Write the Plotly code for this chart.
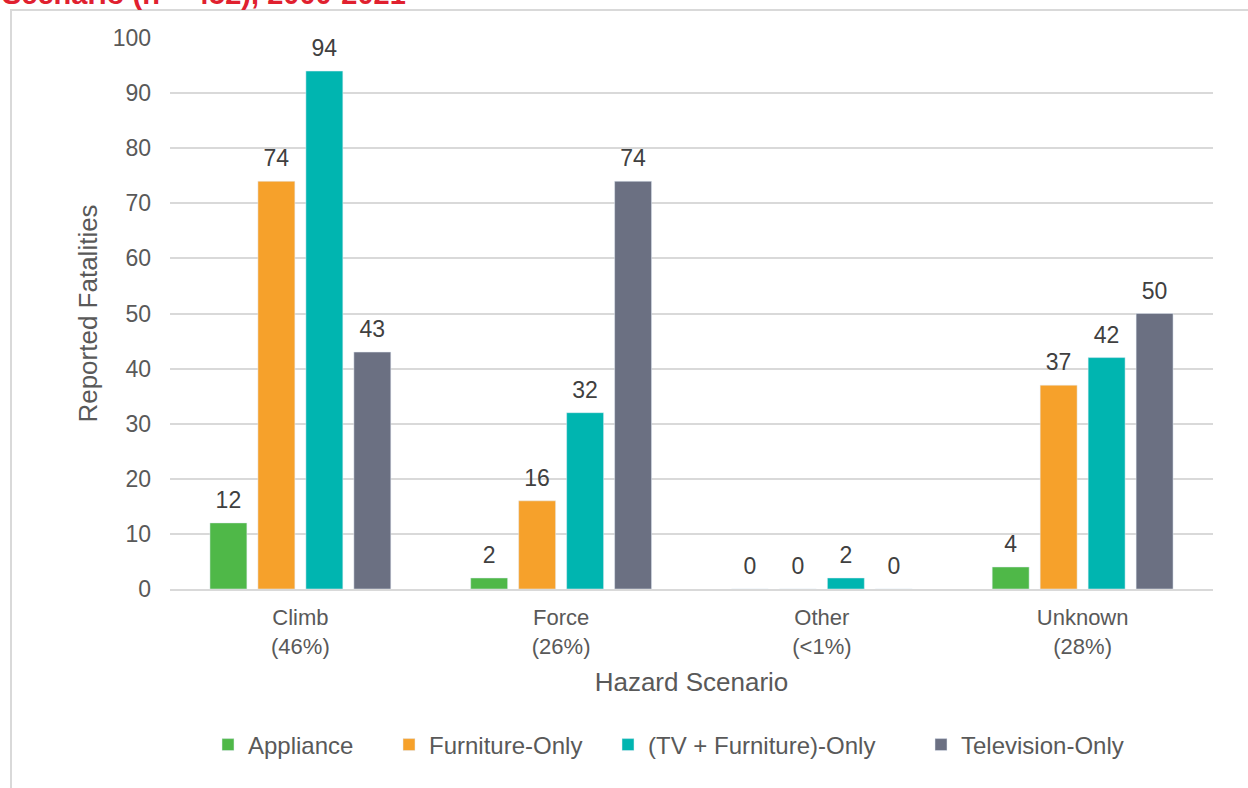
import plotly.graph_objects as go

categories = ["Climb<br>(46%)", "Force<br>(26%)", "Other<br>(<1%)", "Unknown<br>(28%)"]
series_names = ["Appliance", "Furniture-Only", "(TV + Furniture)-Only", "Television-Only"]
appliance = [12, 2, 0, 4]
furniture_only = [74, 16, 0, 37]
tv_furniture_only = [94, 32, 2, 42]
television_only = [43, 74, 0, 50]
colors = ["#4FB848", "#F6A12B", "#00B5B0", "#6B7082"]
y_ticks = [0, 10, 20, 30, 40, 50, 60, 70, 80, 90, 100]
title_text = "Scenario (n = 452), 2000-2021"

FONT = "Liberation Sans, Arial, sans-serif"
GAP = 0.264

W, H = 1248, 788
L, R, T, B = 170, 1213, 38, 589

def px(x):
    return (x - L) / (R - L)

def py(y):
    return (B - y) / (B - T)

legend_ids = ["legend", "legend2", "legend3", "legend4"]
legend_left = [208, 389, 608, 921]

fig = go.Figure()
all_series = [appliance, furniture_only, tv_furniture_only, television_only]
for i, (name, vals, col) in enumerate(zip(series_names, all_series, colors)):
    fig.add_trace(go.Bar(
        x=categories, y=vals, name=name, marker_color=col,
        offsetgroup=str(i), alignmentgroup="a", legend=legend_ids[i],
        cliponaxis=False,
    ))
for i, (name, vals) in enumerate(zip(series_names, all_series)):
    fig.add_trace(go.Scatter(
        x=categories, y=vals, mode="markers+text", showlegend=False,
        offsetgroup=str(i), alignmentgroup="a",
        marker=dict(size=13, opacity=0), text=[str(v) for v in vals],
        textposition="top center", hoverinfo="skip",
        textfont=dict(size=23, color="#404040", family=FONT),
        cliponaxis=False,
    ))

legend_common = dict(orientation="h", xanchor="left", y=py(745), yanchor="middle",
                     font=dict(size=24, color="#595959"), itemwidth=30,
                     bgcolor="rgba(0,0,0,0)")

fig.update_layout(
    width=W, height=H, autosize=False,
    margin=dict(l=L, r=W - R, t=T, b=H - B, pad=0),
    paper_bgcolor="white", plot_bgcolor="white",
    barmode="group", bargap=GAP, bargroupgap=0.23,
    scattermode="group", scattergap=GAP,
    font=dict(family=FONT, color="#595959", size=23),
    showlegend=True,
    xaxis=dict(showgrid=False, showline=True, linecolor="#D9D9D9", linewidth=2,
               tickfont=dict(size=22, color="#595959"), ticklabelstandoff=8,
               title=dict(text="Hazard Scenario", font=dict(size=26, color="#595959"), standoff=15)),
    yaxis=dict(range=[0, 100], tickvals=y_ticks, showgrid=True, gridcolor="#D9D9D9", gridwidth=1.5,
               zeroline=False, showline=False, ticklabelstandoff=18,
               tickfont=dict(size=23, color="#595959"),
               title=dict(text="Reported Fatalities", font=dict(size=26, color="#595959"), standoff=7)),
    shapes=[dict(type="rect", xref="paper", yref="paper",
                 x0=px(11), x1=px(1300), y0=py(900), y1=py(10),
                 line=dict(color="#D9D9D9", width=2), fillcolor="rgba(0,0,0,0)", layer="below")],
    annotations=[dict(text="<b>" + title_text + "</b>", xref="paper", yref="paper",
                      x=px(0), y=py(12), xanchor="left", yanchor="bottom", showarrow=False,
                      font=dict(size=29, color="#E0202F", family=FONT))],
)
for lid, lx in zip(legend_ids, legend_left):
    fig.update_layout({lid: dict(legend_common, x=px(lx))})

fig.write_html("out.html", config={"displayModeBar": False},
               post_script="document.body.style.margin='0';document.body.style.overflow='hidden';")
